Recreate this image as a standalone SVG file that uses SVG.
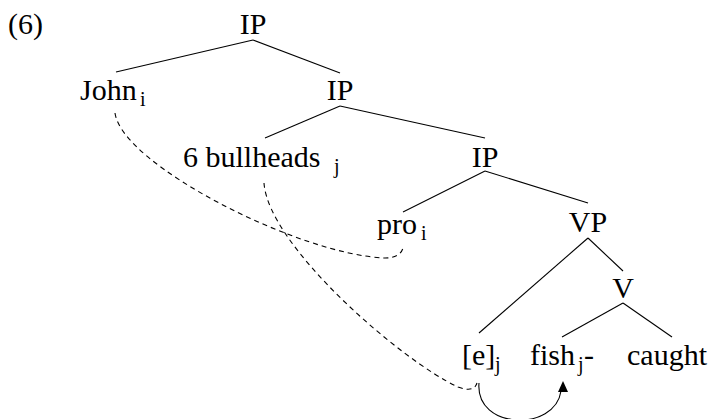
<svg xmlns="http://www.w3.org/2000/svg" width="718" height="419" viewBox="0 0 718 419">
<defs>
<style>
.edge{stroke:#000;stroke-width:1.1;fill:none}
.dash{stroke:#000;stroke-width:1.1;fill:none;stroke-dasharray:5,4}
</style>
</defs>
<text x="8" y="34" font-family="Liberation Serif" font-size="30">(6)</text>
<g id="connectors">
<line class="edge" x1="253" y1="40" x2="116" y2="72"/>
<line class="edge" x1="253" y1="40" x2="340" y2="73"/>
<line class="edge" x1="340" y1="106" x2="265" y2="138"/>
<line class="edge" x1="340" y1="106" x2="485" y2="138"/>
<line class="edge" x1="485" y1="171" x2="403" y2="212"/>
<line class="edge" x1="485" y1="171" x2="588" y2="203"/>
<line class="edge" x1="588" y1="238" x2="479" y2="333"/>
<line class="edge" x1="588" y1="238" x2="623" y2="271"/>
<line class="edge" x1="623" y1="303" x2="562" y2="337"/>
<line class="edge" x1="623" y1="303" x2="672" y2="337"/>
<path class="dash" d="M115,113 C122,165 300,255 385,258 Q400,258 403,248"/>
<path class="dash" d="M264,183 C268,245 400,360 458,387 Q474,393 477,383"/>
<path class="edge" d="M479,383 C475,430 555,432 561,391"/>
<path d="M563,381 L568,392 L558,392 Z" fill="#000"/>
</g>
<g id="ip1"><text x="253" y="34" text-anchor="middle" font-family="Liberation Serif" font-size="30">IP</text></g>
<g id="john"><text x="80" y="100" font-family="Liberation Serif" font-size="30">John</text><text x="140" y="106" font-family="Liberation Serif" font-size="20">i</text></g>
<g id="ip2"><text x="340" y="100" text-anchor="middle" font-family="Liberation Serif" font-size="30">IP</text></g>
<g id="bullheads"><text x="183" y="167" font-family="Liberation Serif" font-size="30">6 bullheads</text><text x="334" y="173" font-family="Liberation Serif" font-size="20">j</text></g>
<g id="ip3"><text x="485" y="167" text-anchor="middle" font-family="Liberation Serif" font-size="30">IP</text></g>
<g id="pro"><text x="377" y="234" font-family="Liberation Serif" font-size="30">pro</text><text x="421" y="240" font-family="Liberation Serif" font-size="20">i</text></g>
<g id="vp"><text x="588" y="232" text-anchor="middle" font-family="Liberation Serif" font-size="30">VP</text></g>
<g id="v"><text x="623" y="298" text-anchor="middle" font-family="Liberation Serif" font-size="30">V</text></g>
<g id="e"><text x="462" y="365" font-family="Liberation Serif" font-size="30">[e]</text><text x="495" y="371" font-family="Liberation Serif" font-size="20">j</text></g>
<g id="fish"><text x="530" y="365" font-family="Liberation Serif" font-size="30">fish</text><text x="578" y="371" font-family="Liberation Serif" font-size="20">j</text><text x="584" y="365" font-family="Liberation Serif" font-size="30">-</text></g>
<g id="caught"><text x="627" y="365" font-family="Liberation Serif" font-size="30">caught</text></g>
</svg>
